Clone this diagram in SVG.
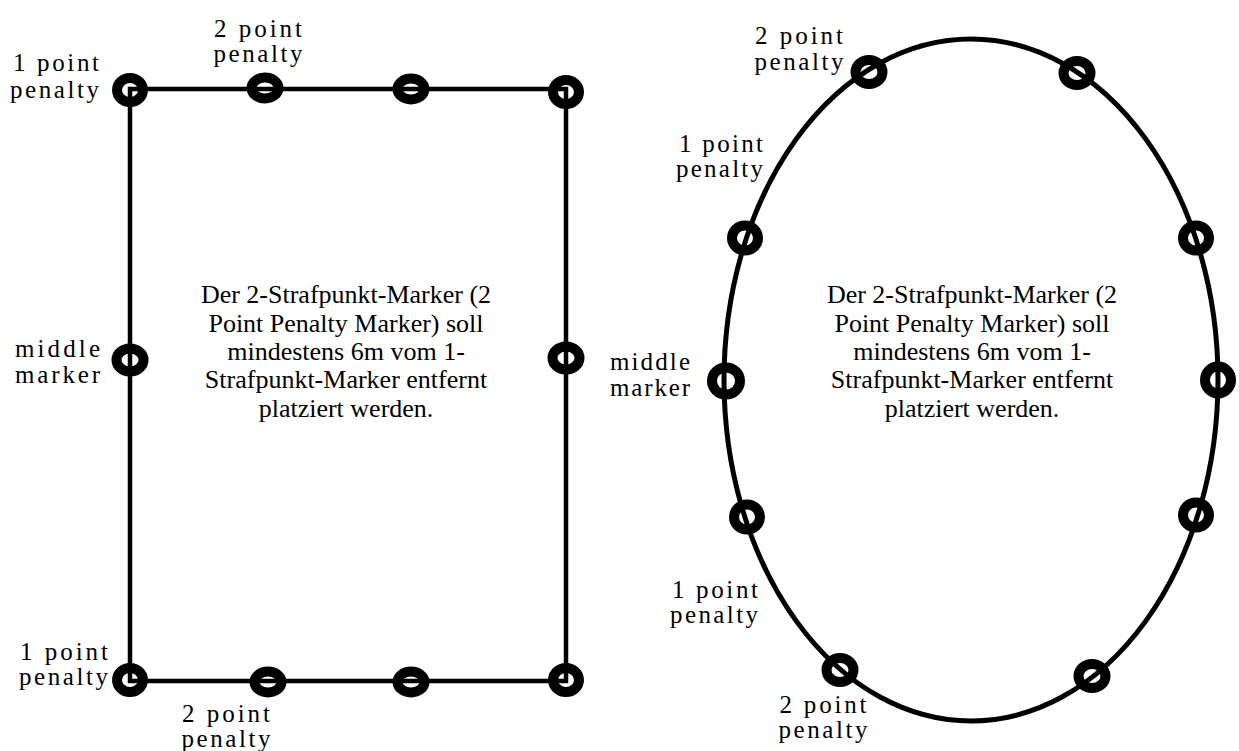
<svg xmlns="http://www.w3.org/2000/svg" width="1239" height="751" viewBox="0 0 1239 751">
<style>
.ln{fill:none;stroke:#000;stroke-width:4.5}
.ov{fill:none;stroke:#000;stroke-width:5}
.rg{fill:none;stroke:#000;stroke-width:10}
.lb{font-family:"Liberation Serif","Times New Roman",Times,"DejaVu Serif",serif;font-size:25px;fill:#000}
.ct{font-family:"Liberation Serif","Times New Roman",Times,"DejaVu Serif",serif;font-size:26px;fill:#000;text-anchor:middle}
.e{text-anchor:end}
.m{text-anchor:middle}
</style>
<rect width="1239" height="751" fill="#fff"/>
<g id="connectors">
<rect class="ln" x="130" y="89" width="436" height="592"/>
<ellipse class="ov" cx="971" cy="380" rx="247" ry="341"/>
</g>
<g id="rect-markers">
<ellipse class="rg" cx="130" cy="90" rx="13" ry="12"/>
<ellipse class="rg" cx="265" cy="88" rx="13.5" ry="10.5"/>
<ellipse class="rg" cx="411" cy="89" rx="13.5" ry="10.5"/>
<ellipse class="rg" cx="566" cy="92" rx="13" ry="12"/>
<ellipse class="rg" cx="130" cy="360" rx="13.5" ry="11.5"/>
<ellipse class="rg" cx="566" cy="358" rx="13.5" ry="11.5"/>
<ellipse class="rg" cx="130" cy="680" rx="13" ry="12"/>
<ellipse class="rg" cx="268" cy="682" rx="13.5" ry="10.5"/>
<ellipse class="rg" cx="411" cy="682" rx="13.5" ry="10.5"/>
<ellipse class="rg" cx="566" cy="680" rx="13" ry="12"/>
</g>
<g id="oval-markers">
<ellipse class="rg" cx="869" cy="72" rx="13.5" ry="12"/>
<ellipse class="rg" cx="1077" cy="73" rx="13.5" ry="12"/>
<ellipse class="rg" cx="745" cy="238" rx="13" ry="12.5"/>
<ellipse class="rg" cx="1196" cy="238" rx="13" ry="12.5"/>
<ellipse class="rg" cx="726" cy="381" rx="14" ry="13.5"/>
<ellipse class="rg" cx="1218" cy="380" rx="13" ry="13.5"/>
<ellipse class="rg" cx="747" cy="517" rx="13" ry="12.5"/>
<ellipse class="rg" cx="1196" cy="515" rx="13" ry="12.5"/>
<ellipse class="rg" cx="840" cy="670" rx="13.5" ry="12"/>
<ellipse class="rg" cx="1092" cy="676" rx="13.5" ry="12"/>
</g>
<g id="rect-labels">
<text class="lb e" x="99" y="71" textLength="86" lengthAdjust="spacing">1 point</text>
<text class="lb e" x="99" y="98" textLength="89" lengthAdjust="spacing">penalty</text>
<text class="lb m" x="258" y="37" textLength="88" lengthAdjust="spacing">2 point</text>
<text class="lb m" x="258" y="62" textLength="89" lengthAdjust="spacing">penalty</text>
<text class="lb e" x="100" y="357" textLength="85" lengthAdjust="spacing">middle</text>
<text class="lb e" x="100" y="383" textLength="85" lengthAdjust="spacing">marker</text>
<text class="lb e" x="108" y="660" textLength="88" lengthAdjust="spacing">1 point</text>
<text class="lb e" x="108" y="685" textLength="89" lengthAdjust="spacing">penalty</text>
<text class="lb m" x="226" y="722" textLength="88" lengthAdjust="spacing">2 point</text>
<text class="lb m" x="226" y="747" textLength="89" lengthAdjust="spacing">penalty</text>
</g>
<g id="oval-labels">
<text class="lb m" x="799" y="44" textLength="88" lengthAdjust="spacing">2 point</text>
<text class="lb m" x="799" y="70" textLength="89" lengthAdjust="spacing">penalty</text>
<text class="lb e" x="763" y="152" textLength="84" lengthAdjust="spacing">1 point</text>
<text class="lb e" x="763" y="177" textLength="87" lengthAdjust="spacing">penalty</text>
<text class="lb e" x="690" y="370" textLength="80" lengthAdjust="spacing">middle</text>
<text class="lb e" x="690" y="396" textLength="80" lengthAdjust="spacing">marker</text>
<text class="lb e" x="758" y="598" textLength="86" lengthAdjust="spacing">1 point</text>
<text class="lb e" x="758" y="623" textLength="88" lengthAdjust="spacing">penalty</text>
<text class="lb m" x="823" y="713" textLength="87" lengthAdjust="spacing">2 point</text>
<text class="lb m" x="823" y="738" textLength="89" lengthAdjust="spacing">penalty</text>
</g>
<g id="rect-note">
<text class="ct" x="346" y="303">Der 2-Strafpunkt-Marker (2</text>
<text class="ct" x="346" y="332">Point Penalty Marker) soll</text>
<text class="ct" x="346" y="360">mindestens 6m vom 1-</text>
<text class="ct" x="346" y="388">Strafpunkt-Marker entfernt</text>
<text class="ct" x="346" y="417">platziert werden.</text>
</g>
<g id="oval-note">
<text class="ct" x="972" y="303">Der 2-Strafpunkt-Marker (2</text>
<text class="ct" x="972" y="332">Point Penalty Marker) soll</text>
<text class="ct" x="972" y="360">mindestens 6m vom 1-</text>
<text class="ct" x="972" y="388">Strafpunkt-Marker entfernt</text>
<text class="ct" x="972" y="417">platziert werden.</text>
</g>
</svg>
